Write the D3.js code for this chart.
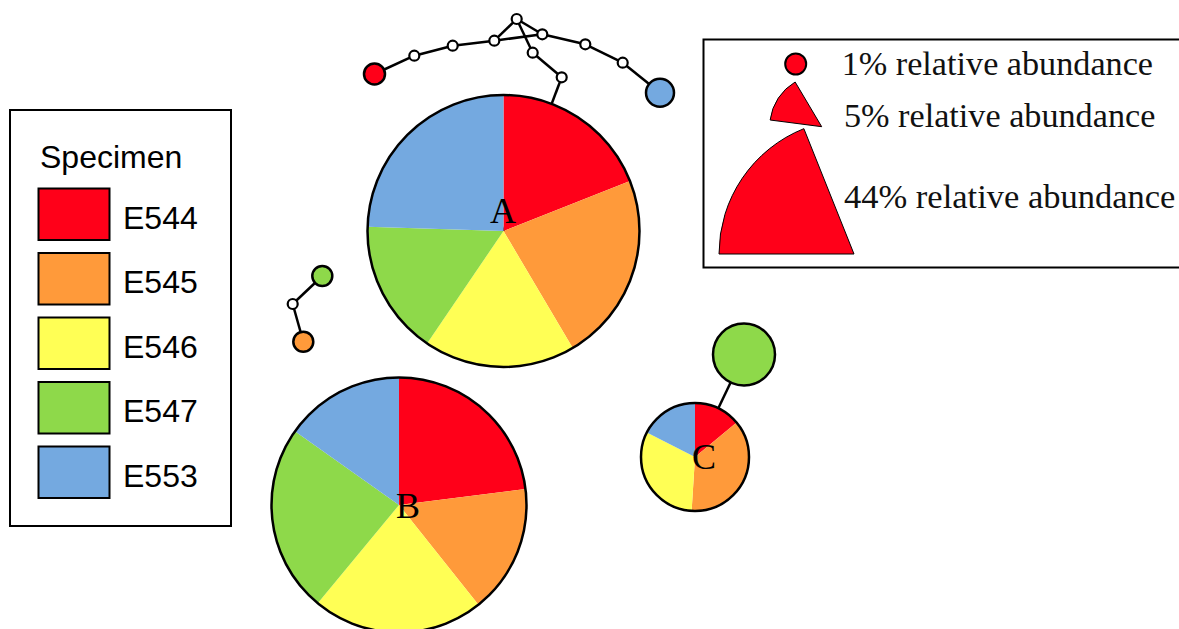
<!DOCTYPE html>
<html><head><meta charset="utf-8">
<script src="https://cdn.jsdelivr.net/npm/d3@7/dist/d3.min.js"></script>
<style>body{margin:0;background:#fff}svg{display:block}</style>
</head><body>
<svg id="c" width="1179" height="629"></svg>
<script>
// ---- data ----
const specimens = ["E544", "E545", "E546", "E547", "E553"];
const specimenColors = ["#ff0019", "#ff9a3a", "#ffff55", "#8ed94a", "#74a9e0"];
const haplotypes = ["A", "B", "C"];
const hapA = [19, 22.5, 18, 16, 24.5];
const hapB = [23, 16.3, 21.7, 23.8, 15.2];
const hapC = [14, 37, 31.5, 0, 17.5];
// single-specimen haplotypes: index into specimens (-1 = unsampled/median node)
const nodeIds = ["r1","m1","m2","m3","mt","mr","mA1","mA2","mr1","mr2","b1","g1","m4","o1","g2"];
const nodeSpecimen = [0,-1,-1,-1,-1,-1,-1,-1,-1,-1,4,3,-1,1,3];
const edges = [["r1","m1"],["m1","m2"],["m2","m3"],["m3","mt"],["m3","mr"],["mt","mr"],
  ["mt","mA1"],["mA1","mA2"],["mA2","A"],["mr","mr1"],["mr1","mr2"],["mr2","b1"],
  ["g1","m4"],["m4","o1"],["g2","C"]];
const abundanceLabels = ["1% relative abundance", "5% relative abundance", "44% relative abundance"];

// ---- layout ----
const layout = {
  A:{x:503.5,y:231,r:136}, B:{x:399,y:505,r:127.5}, C:{x:695,y:457,r:54},
  r1:{x:374.5,y:74,r:10.5}, m1:{x:414.3,y:55.7,r:5}, m2:{x:452.7,y:45.7,r:5},
  m3:{x:494.3,y:40.7,r:5}, mt:{x:516.7,y:19,r:5}, mr:{x:542.3,y:34.3,r:5},
  mA1:{x:532.7,y:52.7,r:5}, mA2:{x:561.7,y:77.3,r:5}, mr1:{x:585.3,y:44.3,r:5},
  mr2:{x:622.7,y:62.7,r:5}, b1:{x:660,y:92.7,r:14},
  g1:{x:322.3,y:276,r:10}, m4:{x:292.7,y:304,r:5}, o1:{x:303.3,y:341.7,r:10},
  g2:{x:744,y:354.5,r:31}
};
const labelPos = {A:{x:503,y:222.7}, B:{x:408,y:518.3}, C:{x:704,y:469.3}};

const svg = d3.select("#c");
const color = d3.scaleOrdinal().domain(specimens).range(specimenColors);

// edges
svg.append("g").selectAll("line").data(edges).join("line")
  .attr("x1", d => layout[d[0]].x).attr("y1", d => layout[d[0]].y)
  .attr("x2", d => layout[d[1]].x).attr("y2", d => layout[d[1]].y)
  .attr("stroke", "#000").attr("stroke-width", 2.5);

// simple nodes
svg.append("g").selectAll("circle").data(nodeIds).join("circle")
  .attr("cx", d => layout[d].x).attr("cy", d => layout[d].y).attr("r", d => layout[d].r)
  .attr("fill", (d, i) => nodeSpecimen[i] < 0 ? "#fff" : color(specimens[nodeSpecimen[i]]))
  .attr("stroke", "#000").attr("stroke-width", (d, i) => nodeSpecimen[i] < 0 ? 2.2 : 2.5);

// pies
const pie = d3.pie().sort(null).value(d => d.v);
const hapValues = [hapA, hapB, hapC];
haplotypes.forEach((h, hi) => {
  const L = layout[h];
  const g = svg.append("g").attr("transform", `translate(${L.x},${L.y})`);
  const arc = d3.arc().innerRadius(0).outerRadius(L.r);
  const data = pie(specimens.map((s, i) => ({s, v: hapValues[hi][i]})));
  g.selectAll("path").data(data.filter(d => d.data.v > 0)).join("path")
    .attr("d", arc).attr("fill", d => color(d.data.s));
  g.append("circle").attr("r", L.r).attr("fill", "none").attr("stroke", "#000").attr("stroke-width", 2.5);
  svg.append("text").attr("x", labelPos[h].x).attr("y", labelPos[h].y)
    .attr("text-anchor", "middle").attr("font-family", "Liberation Serif, Times New Roman, serif")
    .attr("font-size", 36).attr("fill", "#000").text(h);
});

// specimen legend
const leg = svg.append("g");
leg.append("rect").attr("x", 10).attr("y", 110).attr("width", 221).attr("height", 416)
  .attr("fill", "#fff").attr("stroke", "#000").attr("stroke-width", 2);
leg.append("text").attr("x", 40).attr("y", 168).attr("font-family", "Liberation Sans, Arial, sans-serif")
  .attr("font-size", 32).text("Specimen");
const rows = leg.selectAll("g.row").data(specimens).join("g").attr("class", "row")
  .attr("transform", (d, i) => `translate(0,${188.5 + i * 64.5})`);
rows.append("rect").attr("x", 38.5).attr("y", 0).attr("width", 71).attr("height", 51.5)
  .attr("fill", d => color(d)).attr("stroke", "#000").attr("stroke-width", 2);
rows.append("text").attr("x", 123).attr("y", 40).attr("font-family", "Liberation Sans, Arial, sans-serif")
  .attr("font-size", 32).text(d => d);

// abundance legend
const al = svg.append("g");
al.append("rect").attr("x", 703.5).attr("y", 39.5).attr("width", 490).attr("height", 228)
  .attr("fill", "#fff").attr("stroke", "#000").attr("stroke-width", 2);
al.append("circle").attr("cx", 795.7).attr("cy", 64).attr("r", 10.5)
  .attr("fill", color("E544")).attr("stroke", "#000").attr("stroke-width", 2);
const deg = Math.PI / 180;
const wedges = [{x:821.7, y:126.7, r:52, a0:277.4, a1:329.3}, {x:854, y:254, r:135, a0:270, a1:338.2}];
al.selectAll("path").data(wedges).join("path")
  .attr("transform", d => `translate(${d.x},${d.y})`)
  .attr("d", d => d3.arc()({innerRadius:0, outerRadius:d.r, startAngle:d.a0*deg, endAngle:d.a1*deg}))
  .attr("fill", color("E544")).attr("stroke", "#000").attr("stroke-width", 1);
const labelY = [75, 126.7, 208.3], labelX = [841.7, 844, 844], labelSize = [34.2, 34.2, 34.5];
al.selectAll("text").data(abundanceLabels).join("text")
  .attr("x", (d, i) => labelX[i]).attr("y", (d, i) => labelY[i])
  .attr("font-family", "Liberation Serif, Times New Roman, serif").attr("font-size", (d, i) => labelSize[i])
  .attr("fill", "#111").text(d => d);
</script>
</body></html>
